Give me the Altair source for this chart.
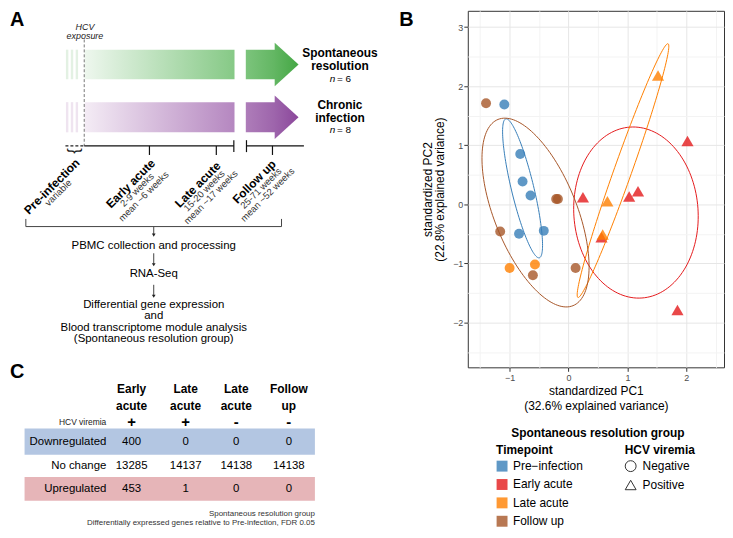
import altair as alt
import numpy as np
import pandas as pd

FONT = "Liberation Sans"

# ======================= Panel B data (PCA) =======================
tp_order = ["Pre−infection", "Early acute", "Late acute", "Follow up"]
tp_colors = ["#377EB8", "#E41A1C", "#FF7F00", "#A65628"]
vir_order = ["Negative", "Positive"]

pre_pc1 = [-1.09, -0.82, -0.78, -0.645, -0.84, -0.42]
pre_pc2 = [1.69, 0.85, 0.385, 0.15, -0.50, -0.45]
pre_vir = ["Negative"] * 6

early_pc1 = [0.245, 1.03, 1.18, 2.02, 1.85, 0.56]
early_pc2 = [0.12, 0.13, 0.22, 1.07, -1.79, -0.56]
early_vir = ["Positive"] * 6

late_pc1 = [0.66, 1.52, 0.58, -1.00, -0.57]
late_pc2 = [0.05, 2.18, -0.51, -1.08, -1.02]
late_vir = ["Positive", "Positive", "Positive", "Negative", "Negative"]

follow_pc1 = [-1.40, -0.21, -0.18, -1.16, -0.605, 0.12]
follow_pc2 = [1.71, 0.09, 0.09, -0.46, -1.20, -1.08]
follow_vir = ["Negative"] * 6

# 95% ellipses: centre, semi-axes, angle (deg)
ell_group = ["Pre−infection", "Early acute", "Late acute", "Follow up"]
ell_cx = [-0.78, 1.145, 0.925, -0.56]
ell_cy = [0.27, -0.14, 0.57, -0.14]
ell_a = [1.21, 1.45, 2.28, 1.70]
ell_b = [0.19, 1.055, 0.15, 0.70]
ell_deg = [103.6, 94.0, 70.4, -68.0]

pts = pd.DataFrame({
    "tp": ["Pre−infection"] * 6 + ["Early acute"] * 6 + ["Late acute"] * 5 + ["Follow up"] * 6,
    "vir": pre_vir + early_vir + late_vir + follow_vir,
    "pc1": pre_pc1 + early_pc1 + late_pc1 + follow_pc1,
    "pc2": pre_pc2 + early_pc2 + late_pc2 + follow_pc2,
})

rows = []
tt = np.linspace(0, 2 * np.pi, 145)
for g, cx, cy, a, b, deg in zip(ell_group, ell_cx, ell_cy, ell_a, ell_b, ell_deg):
    th = np.deg2rad(deg)
    ex = cx + a * np.cos(tt) * np.cos(th) - b * np.sin(tt) * np.sin(th)
    ey = cy + a * np.cos(tt) * np.sin(th) + b * np.sin(tt) * np.cos(th)
    for i, (u, v) in enumerate(zip(ex, ey)):
        rows.append({"grp": g, "x": u, "y": v, "i": i})
ell = pd.DataFrame(rows)

# ======================= Panel C data (table) =======================
col_top = ["Early", "Late", "Late", "Follow"]
col_bot = ["acute", "acute", "acute", "up"]
col_sign = ["+", "+", "-", "-"]
row_names = ["Downregulated", "No change", "Upregulated"]
down_vals = ["400", "0", "0", "0"]
nochange_vals = ["13285", "14137", "14138", "14138"]
up_vals = ["453", "1", "0", "0"]

# ======================= Left canvas (panels A and C) =======================
WL, HL = 414, 522
XMAX, YMAX = 422.4, 543.0
XS = alt.Scale(domain=[0, XMAX], nice=False, zero=False)
YS = alt.Scale(domain=[0, YMAX], nice=False, zero=False, reverse=True)


def X(f="x"):
    return alt.X(f"{f}:Q", scale=XS, axis=None)


def Y(f="y"):
    return alt.Y(f"{f}:Q", scale=YS, axis=None)


def txt(texts, xs, ys, **kw):
    df = pd.DataFrame({"text": texts, "x": xs, "y": ys})
    base = dict(font=FONT, baseline="middle")
    base.update(kw)
    return alt.Chart(df).mark_text(**base).encode(x=X(), y=Y(), text="text:N")


def seg(x1, y1, x2, y2, **kw):
    df = pd.DataFrame({"x": x1, "y": y1, "x2": x2, "y2": y2})
    return alt.Chart(df).mark_rule(**kw).encode(x=X(), y=Y(), x2="x2:Q", y2="y2:Q")


def grad(c0, c1):
    return alt.Gradient(gradient="linear",
                        stops=[alt.GradientStop(color=c0, offset=0), alt.GradientStop(color=c1, offset=1)],
                        x1=0, x2=1, y1=0, y2=0)


def rect(x1, x2, y1, y2, color):
    df = pd.DataFrame({"x": x1, "x2": x2, "y": y1, "y2": y2})
    return alt.Chart(df).mark_rect(color=color).encode(x=X(), x2="x2:Q", y=Y(), y2="y2:Q")


def head(xs, ys, y2s, color):
    df = pd.DataFrame({"x": xs, "y": ys, "y2": y2s})
    return alt.Chart(df).mark_area(color=color, orient="vertical").encode(x=X(), y=Y(), y2="y2:Q")


layers = []
# panel letters
layers.append(txt(["A", "C"], [1, 1], [10, 378], align="left", fontSize=20, fontWeight="bold"))
layers.append(txt(["B"], [401], [10], align="left", fontSize=20, fontWeight="bold"))

# HCV exposure
layers.append(txt(["HCV", "exposure"], [78, 78], [16.7, 26.5], fontSize=9, fontStyle="italic", color="#222"))

# faint stripes (pre-infection)
layers.append(rect([58.5, 63.5, 68.5], [61, 66, 71], [40.7] * 3, [71.7] * 3, "#e3f1e3"))
layers.append(rect([58.5, 63.5, 68.5], [61, 66, 71], [95.7] * 3, [127.3] * 3, "#efe4f0"))

# gradient bars
layers.append(rect([77.7], [231.7], [40.7], [71.7], grad("#eef7ee", "#86c986")))
layers.append(rect([77.7], [231.7], [95.7], [127.3], grad("#f4ecf5", "#b587c0")))

# arrows: body + head
layers.append(rect([243.3], [273.5], [40.7], [71.7], grad("#7cc47c", "#62b662")))
layers.append(rect([243.3], [273.5], [95.7], [127.3], grad("#ae7db9", "#9d64ab")))
layers.append(head([273, 297.5], [33.5, 56.2], [79.0, 56.2], grad("#62b662", "#44a744")))
layers.append(head([273, 297.5], [88.8, 111.5], [134.2, 111.5], grad("#9d64ab", "#8b479b")))

# outcome labels
layers.append(txt(["Spontaneous", "resolution", "Chronic", "infection"],
                  [340, 340, 340, 340], [44, 57.5, 98.5, 112], fontSize=12, fontWeight="bold"))
layers.append(txt(["n", "n"], [329.5, 329.5], [71, 125], align="left", fontSize=10, fontStyle="italic"))
layers.append(txt(["= 6", "= 8"], [337.0, 337.0], [71, 125], align="left", fontSize=10))

# dashed exposure line and dashed pre-infection timeline
layers.append(seg([77.3], [30], [77.3], [141.5], color="#555", strokeDash=[3, 2], strokeWidth=0.8))
layers.append(seg([58], [141.5], [77.3], [141.5], color="#222", strokeDash=[3, 2], strokeWidth=1.2))

# timeline
layers.append(seg([77.3, 244, 231, 244, 144.3, 213, 270.7],
                  [141.5, 141.5, 135.5, 135.5, 141.5, 141.5, 141.5],
                  [231, 303, 231, 244, 144.3, 213, 270.7],
                  [141.5, 141.5, 148, 148, 151, 151, 151], color="#111", strokeWidth=1.2))
layers.append(txt(["}"], [67.5], [147], angle=90, fontSize=17, color="#222"))

# rotated timepoint labels
layers.append(txt(["Pre-infection", "Early acute", "Late acute", "Follow up"],
                  [44, 125, 194, 252], [184, 181, 182, 179], angle=315, fontSize=12, fontWeight="bold"))
layers.append(txt(["variable", "2-9 weeks", "mean ~6 weeks", "15-20 weeks", "mean ~17 weeks",
                   "25-71 weeks", "mean ~52 weeks"],
                  [50.7, 131.7, 138.4, 200.7, 207.4, 259, 265.7],
                  [190.7, 187.7, 194.4, 188.7, 195.4, 186, 192.7], angle=315, fontSize=9.5, color="#333"))

# bracket and workflow arrows
layers.append(seg([17.3, 17.3, 280, 148.7, 148.7, 148.7],
                  [226, 218, 218, 226, 254, 287],
                  [280, 17.3, 280, 148.7, 148.7, 148.7],
                  [226, 226, 226, 234, 265, 298], color="#444", strokeWidth=1))
tri = pd.DataFrame({"x": [148.7, 148.7, 148.7], "y": [235, 266, 299]})
layers.append(alt.Chart(tri).mark_point(shape="triangle-down", filled=True, size=14, color="#222", opacity=1)
              .encode(x=X(), y=Y()))
layers.append(txt(["PBMC collection and processing", "RNA-Seq", "Differential gene expression", "and",
                   "Blood transcriptome module analysis", "(Spontaneous resolution group)"],
                  [148.7] * 6, [246, 275.5, 308, 320, 332.5, 344], fontSize=11.5))

# ---- panel C table ----
cols_x = [126, 181.5, 233.5, 287.5]
layers.append(rect([16], [314.3], [437.5], [465], "#b3c6e2"))
layers.append(rect([16], [314.3], [488.3], [513.3], "#e6b5b8"))
layers.append(txt(col_top, cols_x, [396] * 4, fontSize=12, fontWeight="bold"))
layers.append(txt(col_bot, cols_x, [414] * 4, fontSize=12, fontWeight="bold"))
layers.append(txt(col_sign, cols_x, [431] * 4, fontSize=15, fontWeight="bold"))
layers.append(txt(["HCV viremia"], [100], [431], align="right", fontSize=8.5, color="#222"))
layers.append(txt(row_names, [100] * 3, [451.5, 477.3, 500.7], align="right", fontSize=11.5))
layers.append(txt(down_vals + nochange_vals + up_vals, cols_x * 3,
                  [451.5] * 4 + [477.3] * 4 + [500.7] * 4, fontSize=11.5))
layers.append(txt(["Spontaneous resolution group",
                   "Differentially expressed genes relative to Pre-infection, FDR 0.05"],
                  [314.3, 314.3], [527.3, 536.8], align="right", fontSize=8, color="#333"))

left = alt.layer(*layers).properties(width=WL, height=HL)

# ======================= Right: panel B =======================
PW, PH = 258, 359
xs = alt.Scale(domain=[-1.71, 2.64], nice=False, zero=False)
ys = alt.Scale(domain=[-2.76, 3.275], nice=False, zero=False)
color_scale = alt.Scale(domain=tp_order, range=tp_colors)
shape_scale = alt.Scale(domain=vir_order, range=["circle", "triangle-up"])

grid_cond = {"condition": {"test": "datum.value % 1 === 0", "value": "#e6e6e6"}, "value": "#f3f3f3"}
tick_cond = {"condition": {"test": "datum.value % 1 === 0", "value": 1}, "value": 0}
lab_expr = "datum.value % 1 === 0 ? format(datum.value, 'd') : ''"

x_axis = alt.Axis(values=[-1.5, -1, -0.5, 0, 0.5, 1, 1.5, 2, 2.5], labelExpr=lab_expr,
                  gridColor=grid_cond, tickOpacity=tick_cond, domain=False, tickColor="#333",
                  tickSize=4, labelFontSize=9, labelColor="#4d4d4d", labelPadding=2,
                  title=["standardized PC1", "(32.6% explained variance)"], titleFontSize=12,
                  titleFontWeight="normal", titleColor="black", titleLineHeight=15, titlePadding=3,
                  labelFont=FONT, titleFont=FONT)
y_axis = alt.Axis(values=[-2.5, -2, -1.5, -1, -0.5, 0, 0.5, 1, 1.5, 2, 2.5, 3], labelExpr=lab_expr,
                  gridColor=grid_cond, tickOpacity=tick_cond, domain=False, tickColor="#333",
                  tickSize=4, labelFontSize=9, labelColor="#4d4d4d", labelPadding=1,
                  title=["standardized PC2", "(22.8% explained variance)"], titleFontSize=12,
                  titleFontWeight="normal", titleColor="black", titleLineHeight=12, titlePadding=6,
                  labelFont=FONT, titleFont=FONT)

# legend positions are relative to the whole figure's origin
color_legend = alt.Legend(title="Timepoint", orient="none", legendX=490.5, legendY=437, symbolType="square",
                          symbolSize=121, symbolOpacity=0.8, symbolStrokeWidth=0, titleFontSize=12,
                          titleFontWeight="bold", titleColor="black", labelFontSize=12, labelColor="black",
                          titlePadding=3.5, rowPadding=6.5, labelOffset=5, padding=0, titleFont=FONT,
                          labelFont=FONT)
shape_legend = alt.Legend(title="HCV viremia", orient="none", legendX=620, legendY=437, symbolSize=120,
                          symbolFillColor="white", symbolStrokeColor="black", symbolStrokeWidth=1,
                          titleFontSize=12, titleFontWeight="bold", titleColor="black", labelFontSize=12,
                          labelColor="black", titlePadding=3.5, rowPadding=4, labelOffset=6, padding=0,
                          titleFont=FONT, labelFont=FONT)

enc = dict(
    x=alt.X("pc1:Q", scale=xs, axis=x_axis),
    y=alt.Y("pc2:Q", scale=ys, axis=y_axis),
    color=alt.Color("tp:N", scale=color_scale, legend=color_legend),
    shape=alt.Shape("vir:N", scale=shape_scale, legend=shape_legend),
)
circles = alt.Chart(pts[pts.vir == "Negative"]).mark_point(filled=True, opacity=0.8, size=100).encode(**enc)
triangles = alt.Chart(pts[pts.vir == "Positive"]).mark_point(filled=True, opacity=0.8, size=150).encode(**enc)

ellipses = alt.Chart(ell).mark_line(strokeWidth=1).encode(
    x=alt.X("x:Q", scale=xs, axis=x_axis),
    y=alt.Y("y:Q", scale=ys, axis=y_axis),
    stroke=alt.Stroke("grp:N", scale=alt.Scale(domain=tp_order, range=tp_colors), legend=None),
    detail="grp:N",
    order="i:Q",
)

hdr = alt.Chart(pd.DataFrame({"t": ["Spontaneous resolution group"]})).mark_text(
    font=FONT, fontSize=12, fontWeight="bold", baseline="middle", align="center").encode(
    text="t:N", x=alt.value(131), y=alt.value(425))

right = alt.layer(circles, triangles, ellipses, hdr).properties(
    width=PW, height=PH, view=alt.ViewBackground(stroke="#333333", strokeWidth=1))

chart = alt.hconcat(left, right, spacing=0).properties(padding=0).configure(font=FONT).configure_view(
    stroke="transparent")

chart.save("out.html", embed_options={"renderer": "svg", "actions": False})
